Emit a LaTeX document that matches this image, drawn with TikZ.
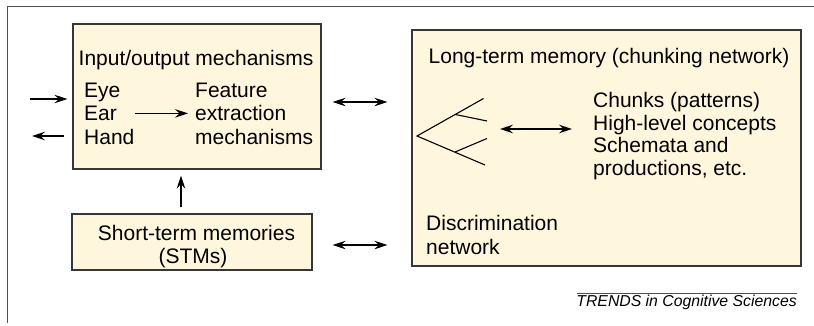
\documentclass[tikz,border=0pt]{standalone}
\usepackage{fontspec}
\setmainfont{Liberation Sans}
\usetikzlibrary{arrows.meta}

\definecolor{boxfill}{RGB}{255,246,222}
\definecolor{boxline}{RGB}{55,55,55}
\definecolor{frameline}{RGB}{80,80,80}

\begin{document}
\begin{tikzpicture}[x=1pt, y=-1pt,
    box/.style={draw=boxline, fill=boxfill, line width=1.2pt, inner sep=0pt},
    txt/.style={inner sep=0pt, font=\fontsize{21}{23.5}\selectfont},
    arr/.style={line width=1.2pt, -{Stealth[length=13pt, width=8.5pt, inset=4.5pt]}},
    darr/.style={line width=1.2pt, {Stealth[length=13pt, width=8.5pt, inset=4.5pt]}-{Stealth[length=13pt, width=8.5pt, inset=4.5pt]}}]

  % Fix the page size
  \useasboundingbox (0,0) rectangle (814,325);

  % Draw the open frame (top and left sides only)
  \draw[frameline, line width=1pt] (814,6) -- (7,6) -- (7,323);

  % Draw the three boxes
  \node[box, minimum width=248pt, minimum height=145pt] (io) at (197,96.5) {};
  \node[box, minimum width=389pt, minimum height=236pt] (ltm) at (606.5,148) {};
  \node[box, minimum width=240pt, minimum height=56pt] (stm) at (192,242) {};

  % Texts of the input/output box
  \node[txt, anchor=base] (iotitle) at (196,65) {Input/output mechanisms};
  \node[txt, anchor=base west] (eye) at (84,97) {Eye};
  \node[txt, anchor=base west] (ear) at (84,120.5) {Ear};
  \node[txt, anchor=base west] (hand) at (84,144) {Hand};
  \node[txt, anchor=base west] (feature) at (195,97) {Feature};
  \node[txt, anchor=base west] (extraction) at (195,120.5) {extraction};
  \node[txt, anchor=base west] (mech) at (195,144) {mechanisms};

  % Ear feeds the feature extraction
  \draw[arr, shorten <=18pt, shorten >=7pt] (ear.east) -- (extraction.west |- ear.east);

  % Texts of the long-term memory box
  \node[txt, anchor=base] (ltmtitle) at (609,63.5) {Long-term memory (chunking network)};
  \node[txt, anchor=base west] (chunks) at (593,107) {Chunks (patterns)};
  \node[txt, anchor=base west] (concepts) at (593,130) {High-level concepts};
  \node[txt, anchor=base west] (schemata) at (593,152.5) {Schemata and};
  \node[txt, anchor=base west] (productions) at (593,175.5) {productions, etc.};
  \node[txt, anchor=base west] (discr) at (426,230) {Discrimination};
  \node[txt, anchor=base west] (network) at (426,254) {network};

  % Texts of the short-term memory box
  \node[txt, anchor=base] (stmtext) at (196.5,240) {Short-term memories};
  \node[txt, anchor=base] (stmabbr) at (193,263.5) {(STMs)};

  % The discrimination tree
  \coordinate (root) at (417,136);
  \coordinate (upE) at (483.5,98.5);
  \coordinate (upS) at (455.5,114.5);
  \coordinate (upT) at (487,121);
  \coordinate (loE) at (485,165);
  \coordinate (loS) at (455,152);
  \coordinate (loT) at (487,138.5);
  \draw[line width=1.1pt] (upE) -- (root) -- (loE);
  \draw[line width=1.1pt] (upS) -- (upT);
  \draw[line width=1.1pt] (loS) -- (loT);

  % Tree exchanges with the chunks
  \coordinate (treeR) at (500,129);
  \coordinate (chunkL) at (572,129);
  \draw[darr] (treeR) -- (chunkL);

  % Input and output arrows on the left
  \coordinate (inL) at (30,99);
  \coordinate (outL) at (32,136);
  \draw[arr, shorten >=5pt] (inL) -- (inL -| io.west);
  \draw[arr, shorten <=8pt] (outL -| io.west) -- (outL);

  % Short-term memories feed the input/output box
  \draw[arr, shorten <=6pt, shorten >=6pt] (stm.north -| 181,0) -- (io.south -| 181,0);

  % Exchanges with long-term memory
  \draw[darr, shorten <=11pt, shorten >=24pt] (io.east |- 0,102) -- (ltm.west |- 0,102);
  \draw[darr, shorten <=20pt, shorten >=24pt] (stm.east |- 0,245) -- (ltm.west |- 0,245);

  % Source line
  \draw[frameline, line width=0.8pt] (577,293) -- (797,293);
  \node[inner sep=0pt, anchor=base east, font=\fontsize{15.8}{18}\selectfont\itshape] (source) at (797,306.7) {TRENDS in Cognitive Sciences};

\end{tikzpicture}
\end{document}
